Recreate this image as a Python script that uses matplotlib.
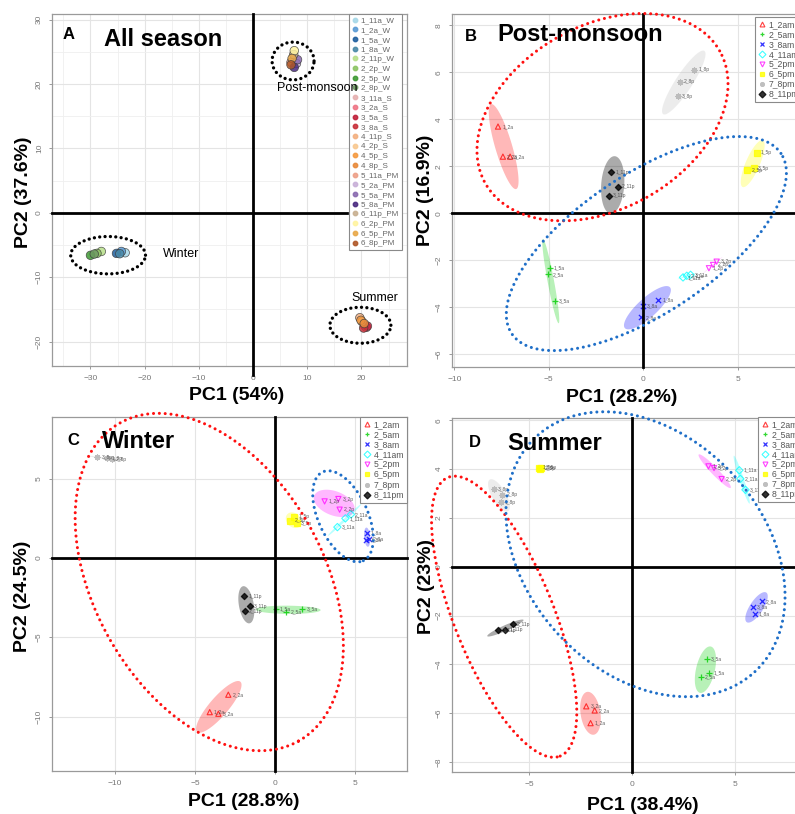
import numpy as np
import matplotlib
matplotlib.use('Agg')
import matplotlib.pyplot as plt
from matplotlib.lines import Line2D
from matplotlib.patches import Polygon

plt.rcParams['font.family'] = ['Liberation Sans', 'DejaVu Sans']

W, H = 795, 814
fig = plt.figure(figsize=(W / 100, H / 100), dpi=100)

# ------------------------------------------------------------------ data
# Panel A: all-season PCA (one point per sample group)
groups_A = ['1_11a_W', '1_2a_W', '1_5a_W', '1_8a_W',
            '2_11p_W', '2_2p_W', '2_5p_W', '2_8p_W',
            '3_11a_S', '3_2a_S', '3_5a_S', '3_8a_S',
            '4_11p_S', '4_2p_S', '4_5p_S', '4_8p_S',
            '5_11a_PM', '5_2a_PM', '5_5a_PM', '5_8a_PM',
            '6_11p_PM', '6_2p_PM', '6_5p_PM', '6_8p_PM']
colors_A = ['#a6d8e8', '#5b9bd5', '#1f5f9f', '#4a8aa8',
            '#b8e08a', '#8cc463', '#3f9a34', '#6e9a62',
            '#e6b0b0', '#ef7585', '#c0203a', '#c8303a',
            '#f3b080', '#f8c890', '#f59a40', '#e88a3a',
            '#eea088', '#c8b0d8', '#8a6ab0', '#4a2a80',
            '#c8b090', '#fff4a0', '#e8a848', '#b05828']
pc1_A = [-23.6, -24.3, -25.2, -24.6,
         -28.0, -28.8, -30.0, -29.3,
         20.6, 20.9, 21.1, 20.4,
         19.7, 20.1, 19.9, 20.5,
         7.0, 8.0, 8.2, 7.6,
         7.5, 7.6, 7.2, 7.0]
pc2_A = [-6.2, -6.0, -6.3, -6.35,
         -6.0, -6.3, -6.6, -6.4,
         -17.5, -17.8, -17.6, -17.9,
         -16.3, -16.9, -16.7, -17.2,
         23.4, 23.2, 23.8, 22.6,
         24.6, 25.2, 24.0, 23.0]

# Panels B-D: 8 time groups x 3 replicates
groups_T = ['1_2am', '2_5am', '3_8am', '4_11am', '5_2pm', '6_5pm', '7_8pm', '8_11pm']
tags_T = ['2a', '5a', '8a', '11a', '2p', '5p', '8p', '11p']
colors_T = ['#FF0000', '#00CD00', '#0000FF', '#00FFFF', '#FF00FF', '#FFFF00', '#BEBEBE', '#000000']

post_pc1 = [[-7.69, -7.43, -7.05], [-4.96, -5.04, -4.69], [0.80, -0.12, -0.03],
            [2.10, 2.30, 2.50], [3.47, 3.69, 3.88], [6.00, 5.50, 5.86],
            [2.68, 1.92, 1.82], [-1.69, -1.34, -1.83]]
post_pc2 = [[3.69, 2.41, 2.41], [-2.34, -2.60, -3.72], [-3.69, -4.43, -3.94],
            [-2.73, -2.66, -2.62], [-2.34, -2.20, -2.06], [2.58, 1.84, 1.91],
            [6.10, 5.60, 4.99], [1.74, 1.13, 0.75]]

winter_pc1 = [[-4.08, -2.92, -3.54], [0.05, 0.70, 1.70], [5.73, 5.85, 5.70],
              [4.40, 4.75, 3.90], [3.10, 4.04, 3.96], [1.20, 0.95, 1.35],
              [-10.5, -10.2, -11.1], [-1.94, -1.88, -1.56]]
winter_pc2 = [[-9.71, -8.61, -9.81], [-3.18, -3.38, -3.22], [1.60, 1.20, 1.15],
              [2.50, 2.75, 1.95], [3.57, 3.05, 3.72], [2.60, 2.35, 2.20],
              [6.30, 6.22, 6.35], [-2.42, -3.36, -3.05]]

summer_pc1 = [[-2.03, -1.83, -2.24], [3.73, 3.32, 3.61], [5.95, 6.29, 5.87],
              [5.20, 5.25, 5.50], [3.70, 4.34, 3.97], [-4.55, -4.48, -4.42],
              [-6.40, -6.32, -6.73], [-6.19, -5.80, -6.52]]
summer_pc2 = [[-6.41, -5.89, -5.72], [-4.36, -4.52, -3.78], [-1.93, -1.42, -1.65],
              [3.95, 3.60, 3.15], [4.11, 3.59, 4.04], [4.06, 4.02, 4.05],
              [2.64, 2.95, 3.18], [-2.58, -2.35, -2.61]]

markers_T = ['^', '+', 'x', 'D', 'v', 's', (8, 2, 0), 'D']
filled_T = [False, True, True, False, False, True, True, True]

# ------------------------------------------------------------------ helpers
def add_ax(l, t, r, b):
    return fig.add_axes([l / W, 1 - b / H, (r - l) / W, (b - t) / H])


def style_axes(ax, xlim, ylim, xt, yt, minor=None):
    ax.set_xlim(*xlim)
    ax.set_ylim(*ylim)
    ax.set_xticks(xt)
    ax.set_yticks(yt)
    if minor is not None:
        ax.set_xticks(minor[0], minor=True)
        ax.set_yticks(minor[1], minor=True)
        ax.grid(True, which='minor', color='#efefef', lw=0.6, zorder=0)
        ax.tick_params(which='minor', length=0)
    ax.grid(True, which='major', color='#e4e4e4', lw=0.8, zorder=0)
    ax.set_axisbelow(True)
    for s in ax.spines.values():
        s.set_color('#9a9a9a')
        s.set_linewidth(0.9)
    ax.tick_params(axis='both', labelsize=6, colors='#8a8a8a', labelcolor='#777777',
                   length=2.5, width=0.6, pad=4)
    ax.tick_params(axis='y', labelrotation=90)
    for lab in ax.get_yticklabels():
        lab.set_verticalalignment('center')


def cross(ax, xspan=(0, 1), yspan=(0, 1)):
    ax.axhline(0, xmin=xspan[0], xmax=xspan[1], color='black', lw=2.0, zorder=5, clip_on=False)
    ax.axvline(0, ymin=yspan[0], ymax=yspan[1], color='black', lw=2.0, zorder=5, clip_on=False)


def dotted_ellipse(ax, cx, cy, a_px, b_px, ang, color, lw=2.2, dash=(0, (0.01, 1.9))):
    t = np.linspace(0, 2 * np.pi, 800)
    c = ax.transData.transform((cx, cy))
    th = np.deg2rad(ang)
    px = c[0] + a_px * np.cos(t) * np.cos(th) - b_px * np.sin(t) * np.sin(th)
    py = c[1] + a_px * np.cos(t) * np.sin(th) + b_px * np.sin(t) * np.cos(th)
    d = ax.transData.inverted().transform(np.column_stack([px, py]))
    ax.plot(d[:, 0], d[:, 1], color=color, lw=lw, linestyle=dash,
            dash_capstyle='round', solid_capstyle='round', clip_on=False, zorder=6)


def conf_ellipse(ax, xs, ys, color, alpha):
    xs = np.asarray(xs, float)
    ys = np.asarray(ys, float)
    cov = np.cov(np.vstack([xs, ys]))
    vals, vecs = np.linalg.eigh(cov)
    vals = np.clip(vals, 1e-6, None)
    r = np.sqrt(5.991)
    t = np.linspace(0, 2 * np.pi, 200)
    circ = np.vstack([np.cos(t), np.sin(t)])
    pts = vecs @ (np.sqrt(vals)[:, None] * circ) * r
    pts[0] += xs.mean()
    pts[1] += ys.mean()
    ax.add_patch(Polygon(pts.T, closed=True, facecolor=color, edgecolor='none',
                         alpha=alpha, zorder=2))


def time_panel(ax, pc1, pc2):
    for g in range(8):
        col = colors_T[g]
        conf_ellipse(ax, pc1[g], pc2[g], col, 0.28 if g != 7 else 0.33)
        if filled_T[g]:
            ax.scatter(pc1[g], pc2[g], marker=markers_T[g], s=14 if g != 7 else 10,
                       c=col if g != 6 else '#b0b0b0', linewidths=0.9, alpha=0.8, zorder=4)
        else:
            ax.scatter(pc1[g], pc2[g], marker=markers_T[g], s=14, facecolors='none',
                       edgecolors=col, linewidths=0.8, alpha=0.75, zorder=4)
        for i in range(3):
            ax.annotate(f'{i + 1}_{tags_T[g]}', (pc1[g][i], pc2[g][i]), xytext=(3, 0),
                        textcoords='offset points', fontsize=3.6, color='#444444',
                        va='center', ha='left', zorder=4, alpha=0.85)


def time_legend(ax, x_px, y_px):
    handles = []
    for g in range(8):
        col = colors_T[g] if g != 6 else '#b0b0b0'
        if filled_T[g]:
            h = Line2D([], [], marker=markers_T[g], color=col, ls='none', ms=3.5,
                       markeredgewidth=0.9, alpha=0.8)
        else:
            h = Line2D([], [], marker=markers_T[g], color=col, ls='none', ms=3.5,
                       markerfacecolor='none', markeredgewidth=0.8, alpha=0.75)
        handles.append(h)
    leg = ax.legend(handles, groups_T, loc='upper left',
                    bbox_to_anchor=(x_px / W, 1 - y_px / H), bbox_transform=fig.transFigure,
                    fontsize=6.2, frameon=True, fancybox=False, edgecolor='#8a8a8a',
                    framealpha=1, borderpad=0.35, labelspacing=0.12, handlelength=0.9,
                    handletextpad=0.35, borderaxespad=0)
    leg.get_frame().set_linewidth(0.8)
    for t in leg.get_texts():
        t.set_color('#555555')
    leg.set_zorder(10)


# ------------------------------------------------------------------ panel A
axA = add_ax(52, 14, 407, 366)
style_axes(axA, (-37.1, 28.4), (-23.8, 30.9), [-30, -20, -10, 0, 10, 20],
           [-20, -10, 0, 10, 20, 30],
           minor=([-35, -25, -15, -5, 5, 15, 25], [-15, -5, 5, 15, 25]))
cross(axA, xspan=(0, (347 - 52) / 355), yspan=(-9 / 352, 1))
axA.scatter(pc1_A, pc2_A, s=38, c=colors_A, edgecolors='#3a3a3a', linewidths=0.5,
            alpha=0.85, zorder=4)
dotted_ellipse(axA, -26.75, -6.58, 37.4, 18.7, 0, 'black', lw=2.4, dash=(0, (0.01, 1.6)))
dotted_ellipse(axA, 7.38, 23.6, 21, 18.9, 0, 'black', lw=2.4, dash=(0, (0.01, 1.6)))
dotted_ellipse(axA, 19.8, -17.47, 30.5, 18, 0, 'black', lw=2.4, dash=(0, (0.01, 1.6)))
axA.text(11.85, 19.4, 'Post-monsoon', fontsize=9, ha='center', va='center', zorder=12)
axA.text(-13.3, -6.4, 'Winter', fontsize=9, ha='center', va='center', zorder=12)
axA.text(22.5, -13.2, 'Summer', fontsize=9, ha='center', va='center', zorder=12)
hA = [Line2D([], [], marker='o', ls='none', ms=3.2, color=c, markeredgecolor=c, alpha=0.9)
      for c in colors_A]
legA = axA.legend(hA, groups_A, loc='upper left', bbox_to_anchor=(349 / W, 1 - 14 / H),
                  bbox_transform=fig.transFigure, fontsize=5.8, frameon=True, fancybox=False,
                  edgecolor='#8a8a8a', framealpha=1, borderpad=0.35, labelspacing=0.255,
                  handlelength=0.7, handletextpad=0.4, borderaxespad=0)
legA.get_frame().set_linewidth(0.8)
for t in legA.get_texts():
    t.set_color('#666666')
legA.set_zorder(10)

# ------------------------------------------------------------------ panel B
axB = add_ax(451.7, 14, 800, 366.7)
style_axes(axB, (-10.14, 8.29), (-6.53, 8.48), [-10, -5, 0, 5], [-6, -4, -2, 0, 2, 4, 6, 8])
cross(axB)
time_panel(axB, post_pc1, post_pc2)
dotted_ellipse(axB, -2.16, 4.09, 134.6, 91.6, 29.5, '#ff1010')
dotted_ellipse(axB, 0.16, -1.29, 162, 69.5, 33.8, '#1f6fc8')
time_legend(axB, 755, 16.7)

# ------------------------------------------------------------------ panel C
axC = add_ax(51.7, 417.3, 407.3, 770.7)
style_axes(axC, (-13.96, 8.27), (-13.4, 8.87), [-10, -5, 0, 5], [-10, -5, 0, 5])
cross(axC)
time_panel(axC, winter_pc1, winter_pc2)
dotted_ellipse(axC, -4.11, -1.51, 182.4, 114.8, -60.7, '#ff1010')
dotted_ellipse(axC, 4.25, 2.63, 48.8, 24.7, -65.4, '#1f6fc8')
time_legend(axC, 360, 417.3)

# ------------------------------------------------------------------ panel D
axD = add_ax(451.7, 418.3, 800, 771.7)
style_axes(axD, (-8.78, 8.15), (-8.4, 6.08), [-5, 0, 5], [-8, -6, -4, -2, 0, 2, 4, 6])
cross(axD)
time_panel(axD, summer_pc1, summer_pc2)
dotted_ellipse(axD, -6.23, -2.05, 150.2, 49.8, -68.1, '#ff1010')
dotted_ellipse(axD, 0.64, 0.51, 160.5, 118.4, -47, '#1f6fc8')
time_legend(axD, 758, 416.7)

# ------------------------------------------------------------------ texts
def ftext(x, y, s, **kw):
    fig.text(x / W, 1 - y / H, s, **kw)

for (x, y, s) in [(68.5, 39.3, 'A'), (471, 40.7, 'B'), (73, 445, 'C'), (474.5, 446.7, 'D')]:
    ftext(x, y, s, fontsize=12, fontweight='bold', ha='center', va='baseline', zorder=20)
for (x, y, s) in [(104, 45.5, 'All season'), (497.7, 40.7, 'Post-monsoon'),
                  (102, 448.3, 'Winter'), (507, 450, 'Summer')]:
    ftext(x, y, s, fontsize=17, fontweight='bold', ha='left', va='baseline', zorder=20)

for (x, y, s) in [(237, 395, 'PC1 (54%)'), (622, 397, 'PC1 (28.2%)'),
                  (243.5, 801, 'PC1 (28.8%)'), (642.5, 805.5, 'PC1 (38.4%)')]:
    ftext(x, y, s, fontsize=14, fontweight='bold', ha='center', va='center')
for (x, y, s) in [(24, 192.5, 'PC2 (37.6%)'), (425, 190, 'PC2 (16.9%)'),
                  (22.5, 596.7, 'PC2 (24.5%)'), (426.5, 586.5, 'PC2 (23%)')]:
    ftext(x, y, s, fontsize=14, fontweight='bold', ha='center', va='center', rotation=90)

fig.savefig('out.png', dpi=100)
